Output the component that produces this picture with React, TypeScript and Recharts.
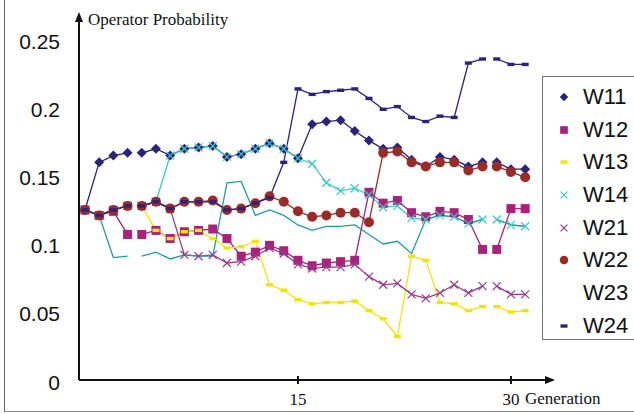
import React from "react";
import { LineChart, Line, XAxis, YAxis, ReferenceDot } from "recharts";

// generation index of each sample
const gens = [
  0, 1, 2, 3, 4, 5, 6, 7, 8, 9, 10, 11, 12, 13, 14, 15, 16, 17, 18, 19, 20,
  21, 22, 23, 24, 25, 26, 27, 28, 29, 30, 31,
];
// the original lines are broken after these generations
const breaksAfter = [3, 28];

const w11 = [0.125, 0.16, 0.165, 0.167, 0.167, 0.17, 0.165, 0.17, 0.171, 0.172, 0.164, 0.166, 0.17, 0.174, 0.17, 0.163, 0.188, 0.19, 0.191, 0.183, 0.176, 0.17, 0.171, 0.162, 0.157, 0.164, 0.162, 0.157, 0.16, 0.16, 0.155, 0.155];
const w12 = [0.125, 0.121, 0.124, 0.107, 0.107, 0.11, 0.104, 0.109, 0.11, 0.111, 0.104, 0.091, 0.094, 0.099, 0.095, 0.088, 0.084, 0.086, 0.087, 0.088, 0.138, 0.13, 0.132, 0.123, 0.12, 0.124, 0.123, 0.118, 0.096, 0.096, 0.126, 0.126];
const w13 = [0.125, 0.121, 0.125, 0.128, 0.128, 0.11, 0.104, 0.109, 0.11, 0.104, 0.097, 0.098, 0.102, 0.07, 0.066, 0.059, 0.056, 0.057, 0.057, 0.058, 0.051, 0.045, 0.032, 0.091, 0.088, 0.057, 0.056, 0.051, 0.054, 0.054, 0.05, 0.051];
const w14 = [0.125, 0.121, 0.125, 0.128, 0.128, 0.131, 0.165, 0.17, 0.171, 0.172, 0.164, 0.166, 0.17, 0.174, 0.17, 0.163, 0.159, 0.145, 0.139, 0.141, 0.136, 0.127, 0.128, 0.119, 0.118, 0.121, 0.12, 0.115, 0.118, 0.118, 0.114, 0.113];
const w21 = [0.125, 0.121, 0.125, 0.128, 0.128, 0.131, 0.126, 0.092, 0.091, 0.092, 0.086, 0.087, 0.091, 0.097, 0.093, 0.085, 0.082, 0.083, 0.083, 0.085, 0.076, 0.07, 0.071, 0.063, 0.06, 0.064, 0.07, 0.064, 0.069, 0.069, 0.063, 0.063];
const w22 = [0.125, 0.121, 0.125, 0.128, 0.128, 0.131, 0.126, 0.131, 0.131, 0.132, 0.125, 0.126, 0.13, 0.135, 0.131, 0.124, 0.12, 0.121, 0.123, 0.123, 0.116, 0.167, 0.168, 0.16, 0.157, 0.16, 0.16, 0.154, 0.157, 0.157, 0.153, 0.149];
const w23 = [0.125, 0.121, 0.09, 0.091, 0.091, 0.094, 0.089, 0.092, 0.091, 0.091, 0.145, 0.146, 0.121, 0.125, 0.121, 0.114, 0.11, 0.113, 0.113, 0.114, 0.107, 0.1, 0.102, 0.093, 0.118, 0.121, 0.12, 0.115, 0.118, 0.118, 0.114, 0.113];
const w24 = [0.125, 0.121, 0.125, 0.128, 0.128, 0.131, 0.126, 0.131, 0.131, 0.131, 0.125, 0.126, 0.13, 0.134, 0.16, 0.214, 0.21, 0.212, 0.213, 0.214, 0.207, 0.199, 0.201, 0.193, 0.19, 0.194, 0.193, 0.233, 0.236, 0.236, 0.232, 0.232];

const yTicks = [0, 0.05, 0.1, 0.15, 0.2, 0.25];
const xTicks = [15, 30];

const series = [
  { key: "W11", values: w11, color: "#29247a", marker: "diamond" },
  { key: "W12", values: w12, color: "#a8217b", marker: "square" },
  { key: "W13", values: w13, color: "#f2e600", marker: "dash" },
  { key: "W14", values: w14, color: "#3cc8c8", marker: "cross" },
  { key: "W21", values: w21, color: "#963c8e", marker: "cross" },
  { key: "W22", values: w22, color: "#9b2b26", marker: "circle" },
  { key: "W23", values: w23, color: "#1f9e9e", marker: "none" },
  { key: "W24", values: w24, color: "#29247a", marker: "dash" },
];

const rows: any[] = [];
gens.forEach((g, i) => {
  const row: any = { gen: g };
  series.forEach((s) => (row[s.key] = s.values[i]));
  rows.push(row);
  if (breaksAfter.includes(g)) {
    const gap: any = { gen: g + 0.5 };
    series.forEach((s) => (gap[s.key] = null));
    rows.push(gap);
  }
});

const X_MIN = -0.42;
const X_MAX = 32.96;
const Y_MAX = 0.2676;

const drawMarker = (kind: string, color: string, cx: number, cy: number, big = true) => {
  const k = big ? 1 : 0.85;
  switch (kind) {
    case "diamond": {
      const r = 5 * k;
      return <polygon points={`${cx},${cy - r} ${cx + r},${cy} ${cx},${cy + r} ${cx - r},${cy}`} fill={color} />;
    }
    case "square": {
      const h = 4.5 * k;
      return <rect x={cx - h} y={cy - h} width={h * 2} height={h * 2} fill={color} />;
    }
    case "circle":
      return <circle cx={cx} cy={cy} r={5 * k} fill={color} />;
    case "dash":
      return <rect x={cx - 3.5} y={cy - 1.7} width={7} height={3.4} fill={color} />;
    case "cross": {
      const h = 4 * k;
      return (
        <g stroke={color} strokeWidth={1.2}>
          <line x1={cx - h} y1={cy - h} x2={cx + h} y2={cy + h} />
          <line x1={cx - h} y1={cy + h} x2={cx + h} y2={cy - h} />
        </g>
      );
    }
    default:
      return <g />;
  }
};

const makeDot = (kind: string, color: string) => (props: any) => {
  const { cx, cy, value, index } = props;
  if (value == null || cx == null || cy == null) return <g key={`d-${index}`} />;
  return <g key={`d-${index}`}>{drawMarker(kind, color, cx, cy)}</g>;
};

const YTick = ({ x, y, payload }: any) => (
  <text x={x} y={y + 2} textAnchor="end" dominantBaseline="central" fontFamily="Liberation Sans, Arial" fontSize={21} fill="#111">
    {String(payload.value)}
  </text>
);

const XTick = ({ x, y, payload }: any) => (
  <g>
    <line x1={x} x2={x} y1={y - 4} y2={y + 4} stroke="#111" strokeWidth={2} />
    <text x={x} y={y + 25} textAnchor="middle" fontFamily="Liberation Serif, Times New Roman" fontSize={17} fill="#111">
      {payload.value}
    </text>
  </g>
);

const ArrowUp = ({ cx, cy }: any) => (
  <polygon points={`${cx},${cy - 4} ${cx - 4},${cy + 6} ${cx + 4},${cy + 6}`} fill="#111" />
);
const ArrowRight = ({ cx, cy }: any) => (
  <polygon points={`${cx + 2},${cy} ${cx - 8},${cy - 4} ${cx - 8},${cy + 4}`} fill="#111" />
);

export default function App() {
  return (
    <div style={{ position: "absolute", left: 0, top: 0, width: 634, height: 414, background: "#fff", overflow: "hidden" }}>
      <div
        style={{
          position: "absolute",
          left: 4,
          top: -4,
          width: 700,
          height: 415,
          borderLeft: "1.5px solid #666",
          borderBottom: "1.5px solid #888",
        }}
      />
      <LineChart width={634} height={414} data={rows} margin={{ top: 16, right: 81, bottom: 0, left: 0 }}>
        <XAxis
          dataKey="gen"
          type="number"
          domain={[X_MIN, X_MAX]}
          allowDataOverflow
          ticks={xTicks}
          height={34}
          tickSize={0}
          tickMargin={0}
          tick={<XTick />}
          axisLine={{ stroke: "#111", strokeWidth: 2 }}
          tickLine={false}
        />
        <YAxis
          type="number"
          domain={[0, Y_MAX]}
          allowDataOverflow
          ticks={yTicks}
          width={79}
          tickSize={0}
          tickMargin={19}
          tick={<YTick />}
          axisLine={{ stroke: "#111", strokeWidth: 2 }}
          tickLine={false}
        />
        {series.map((s) => (
          <Line
            key={s.key}
            type="linear"
            dataKey={s.key}
            stroke={s.color}
            strokeWidth={1.3}
            dot={makeDot(s.marker, s.color)}
            activeDot={false}
            isAnimationActive={false}
          />
        ))}
        <ReferenceDot x={X_MIN} y={Y_MAX} r={0} ifOverflow="visible" shape={<ArrowUp />} />
        <ReferenceDot x={X_MAX} y={0} r={0} ifOverflow="visible" shape={<ArrowRight />} />
      </LineChart>
      <div
        style={{
          position: "absolute",
          left: 88,
          top: 10,
          fontFamily: "Liberation Serif, Times New Roman",
          fontSize: 17,
          color: "#111",
          whiteSpace: "nowrap",
        }}
      >
        Operator Probability
      </div>
      <div
        style={{
          position: "absolute",
          left: 525,
          top: 389,
          fontFamily: "Liberation Serif, Times New Roman",
          fontSize: 17,
          color: "#111",
          whiteSpace: "nowrap",
        }}
      >
        Generation
      </div>
      <div
        style={{
          position: "absolute",
          left: 542,
          top: 76,
          width: 120,
          height: 264,
          paddingTop: 4,
          border: "1.5px solid #777",
          background: "#fff",
          boxSizing: "border-box",
        }}
      >
        {series.map((s) => (
          <div key={s.key} style={{ position: "relative", height: 32.7 }}>
            <svg width={16} height={16} style={{ position: "absolute", left: 13, top: 8 }}>
              {drawMarker(s.marker, s.color, 8, 8, false)}
            </svg>
            <span
              style={{
                position: "absolute",
                left: 40,
                top: 3,
                fontFamily: "Liberation Sans, Arial",
                fontSize: 22,
                color: "#111",
                lineHeight: "26px",
              }}
            >
              {s.key}
            </span>
          </div>
        ))}
      </div>
    </div>
  );
}
